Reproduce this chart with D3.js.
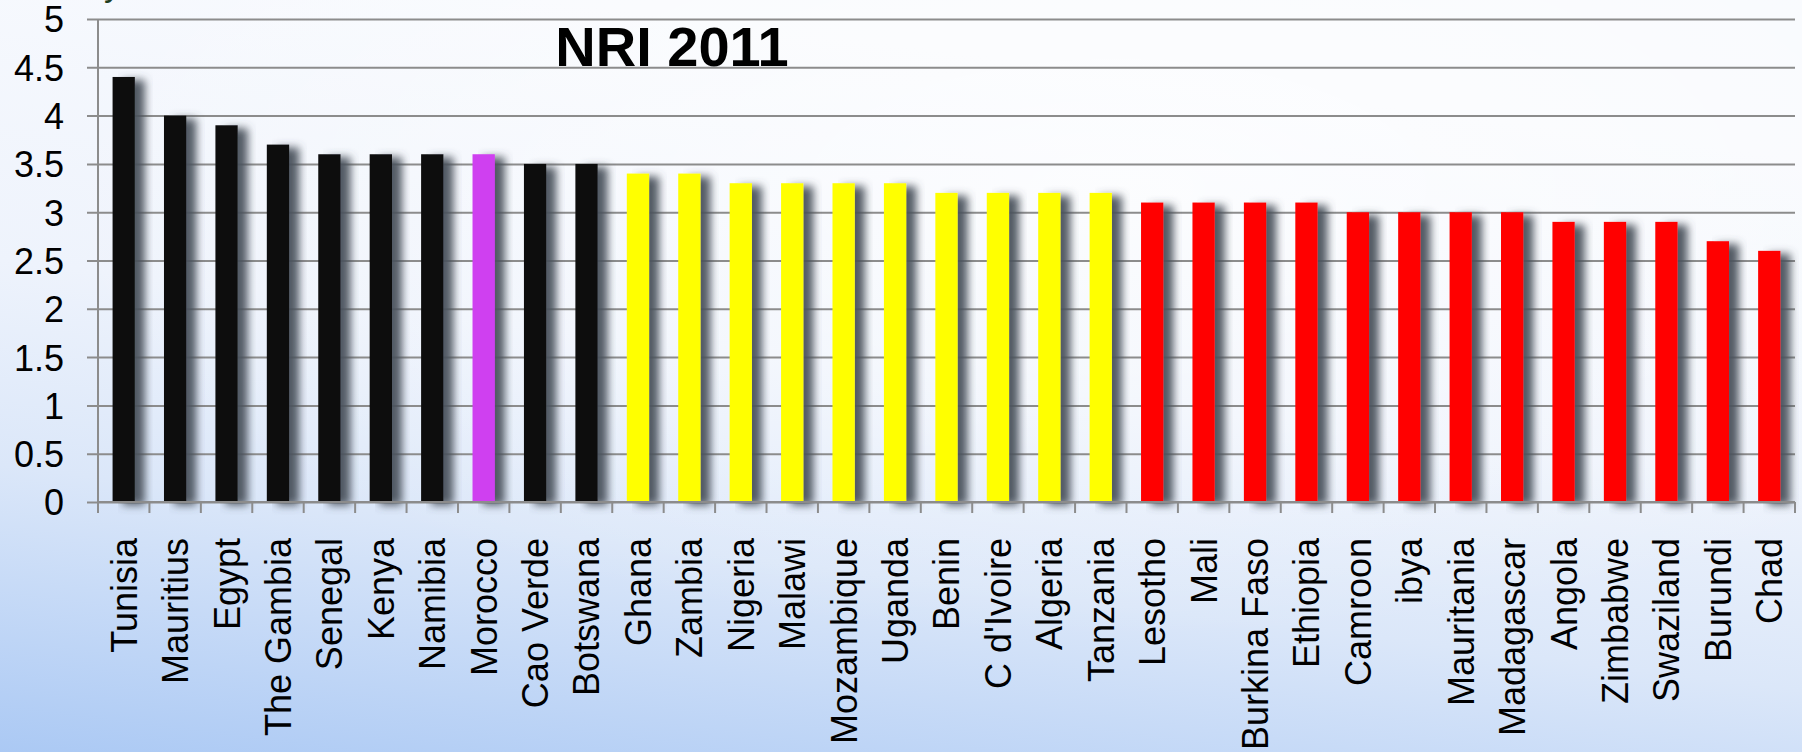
<!DOCTYPE html>
<html>
<head>
<meta charset="utf-8">
<script src="https://cdn.jsdelivr.net/npm/d3@7"></script>
<style>
  html, body { margin: 0; padding: 0; overflow: hidden; }
  body { width: 1802px; height: 752px; }
  svg text { font-family: "Liberation Sans", Arial, sans-serif; }
</style>
</head>
<body>
<svg id="chart" width="1802" height="752"></svg>
<script>
// NRI 2011 scores
const countries = ["Tunisia", "Mauritius", "Egypt", "The Gambia", "Senegal", "Kenya", "Namibia", "Morocco",
    "Cao Verde", "Botswana", "Ghana", "Zambia", "Nigeria", "Malawi", "Mozambique", "Uganda", "Benin",
    "C d'Ivoire", "Algeria", "Tanzania", "Lesotho", "Mali", "Burkina Faso", "Ethiopia", "Camroon", "ibya",
    "Mauritania", "Madagascar", "Angola", "Zimbabwe", "Swaziland", "Burundi", "Chad"];
const values = [4.4, 4.0, 3.9, 3.7, 3.6, 3.6, 3.6, 3.6, 3.5, 3.5, 3.4, 3.4, 3.3, 3.3, 3.3, 3.3, 3.2,
    3.2, 3.2, 3.2, 3.1, 3.1, 3.1, 3.1, 3.0, 3.0, 3.0, 3.0, 2.9, 2.9, 2.9, 2.7, 2.6];
const groups = ["top", "top", "top", "top", "top", "top", "top", "morocco", "top", "top",
    "mid", "mid", "mid", "mid", "mid", "mid", "mid", "mid", "mid", "mid",
    "low", "low", "low", "low", "low", "low", "low", "low", "low", "low", "low", "low", "low"];
const groupNames = ["top", "morocco", "mid", "low"];
const yTicks = [0, 0.5, 1, 1.5, 2, 2.5, 3, 3.5, 4, 4.5, 5];
const chartTitle = "NRI 2011";

const PLOT_LEFT = 98;
const PLOT_RIGHT = 1795;
const PLOT_TOP = 19;
const PLOT_BOTTOM = 502;
const TICK_OUT = 11;
const LABEL_SIZE = 36;

const svg = d3.select('#chart');
const defs = svg.append('defs');

// page background, pale at the top and blue at the bottom
let bg = defs.append('linearGradient')
    .attr('id', 'bg')
    .attr('x1', 0.3).attr('y1', 0).attr('x2', 0).attr('y2', 1);
bg.append('stop').attr('offset', '0%').attr('stop-color', '#f8fafe');
bg.append('stop').attr('offset', '40%').attr('stop-color', '#eef3fc');
bg.append('stop').attr('offset', '65%').attr('stop-color', '#dbe7f9');
bg.append('stop').attr('offset', '100%').attr('stop-color', '#abc9f4');

let glow = defs.append('radialGradient')
    .attr('id', 'glow')
    .attr('cx', 0.62).attr('cy', 0.25).attr('r', 0.6);
glow.append('stop').attr('offset', '0%').attr('stop-color', '#ffffff').attr('stop-opacity', 0.7);
glow.append('stop').attr('offset', '100%').attr('stop-color', '#ffffff').attr('stop-opacity', 0);

let shadow = defs.append('filter')
    .attr('id', 'shadow')
    .attr('x', '-20%').attr('y', '-5%').attr('width', '200%').attr('height', '115%');
shadow.append('feGaussianBlur').attr('in', 'SourceAlpha').attr('stdDeviation', 4.5).attr('result', 'blur');
shadow.append('feOffset').attr('in', 'blur').attr('dx', 10).attr('dy', 3).attr('result', 'off');
shadow.append('feFlood').attr('flood-color', '#4a525c').attr('flood-opacity', 0.95);
shadow.append('feComposite').attr('in2', 'off').attr('operator', 'in').attr('result', 'sh');
let merge = shadow.append('feMerge');
merge.append('feMergeNode').attr('in', 'sh');
merge.append('feMergeNode').attr('in', 'SourceGraphic');

svg.append('rect').attr('width', 1802).attr('height', 752).attr('fill', 'url(#bg)');
svg.append('rect').attr('width', 1802).attr('height', 752).attr('fill', 'url(#glow)');

// cut-off text above the chart
svg.append('text')
    .attr('x', 104).attr('y', -4)
    .attr('font-size', 35)
    .attr('fill', '#1f3d1f')
    .text('y');

let x = d3.scaleBand()
    .domain(countries)
    .range([PLOT_LEFT, PLOT_RIGHT])
    .paddingInner(0.566)
    .paddingOuter(0.283);

let y = d3.scaleLinear()
    .domain([0, 5])
    .range([PLOT_BOTTOM, PLOT_TOP]);

let colour = d3.scaleOrdinal()
    .domain(groupNames)
    .range(['#111111', '#cf3ff0', '#ffff00', '#ff0505']);

// y axis with gridlines
let yAxis = svg.append('g')
    .attr('transform', 'translate(' + PLOT_LEFT + ',0)')
    .call(d3.axisLeft(y)
        .tickValues(yTicks)
        .tickFormat(d => String(d))
        .tickSize(-(PLOT_RIGHT - PLOT_LEFT))
        .tickPadding(34));
yAxis.select('.domain').remove();
yAxis.selectAll('.tick line')
    .attr('x1', -TICK_OUT)
    .attr('stroke', '#8c8c8c')
    .attr('stroke-width', 2);
yAxis.selectAll('.tick text')
    .attr('font-size', LABEL_SIZE)
    .attr('fill', '#000')
    .attr('dy', '0.36em');

svg.append('line')
    .attr('x1', PLOT_LEFT).attr('x2', PLOT_LEFT)
    .attr('y1', PLOT_TOP).attr('y2', PLOT_BOTTOM)
    .attr('stroke', '#8c8c8c')
    .attr('stroke-width', 2);

// bars
svg.append('g')
    .selectAll('rect')
    .data(countries)
    .join('rect')
    .attr('x', d => x(d))
    .attr('y', (d, i) => y(values[i]))
    .attr('width', x.bandwidth())
    .attr('height', (d, i) => y(0) - y(values[i]))
    .attr('fill', (d, i) => colour(groups[i]))
    .attr('filter', 'url(#shadow)');

// x axis line and ticks between categories
let xAxis = svg.append('g');
xAxis.append('line')
    .attr('x1', PLOT_LEFT).attr('x2', PLOT_RIGHT)
    .attr('y1', PLOT_BOTTOM).attr('y2', PLOT_BOTTOM)
    .attr('stroke', '#8c8c8c')
    .attr('stroke-width', 2);
let edges = countries.map(d => x(d) + x.bandwidth() / 2 - x.step() / 2);
edges.push(PLOT_RIGHT);
xAxis.selectAll('line.tick')
    .data(edges)
    .join('line')
    .attr('class', 'tick')
    .attr('x1', d => d).attr('x2', d => d)
    .attr('y1', PLOT_BOTTOM).attr('y2', PLOT_BOTTOM + TICK_OUT)
    .attr('stroke', '#8c8c8c')
    .attr('stroke-width', 2);

xAxis.selectAll('text')
    .data(countries)
    .join('text')
    .attr('transform', d => 'translate(' + (x(d) + x.bandwidth() / 2) + ',538) rotate(-90)')
    .attr('text-anchor', 'end')
    .attr('dy', '0.36em')
    .attr('font-size', LABEL_SIZE)
    .attr('fill', '#000')
    .text(d => d);

// title
svg.append('text')
    .attr('x', 672).attr('y', 66)
    .attr('text-anchor', 'middle')
    .attr('font-size', 56)
    .attr('font-weight', 'bold')
    .attr('fill', '#000')
    .text(chartTitle);
</script>
</body>
</html>
